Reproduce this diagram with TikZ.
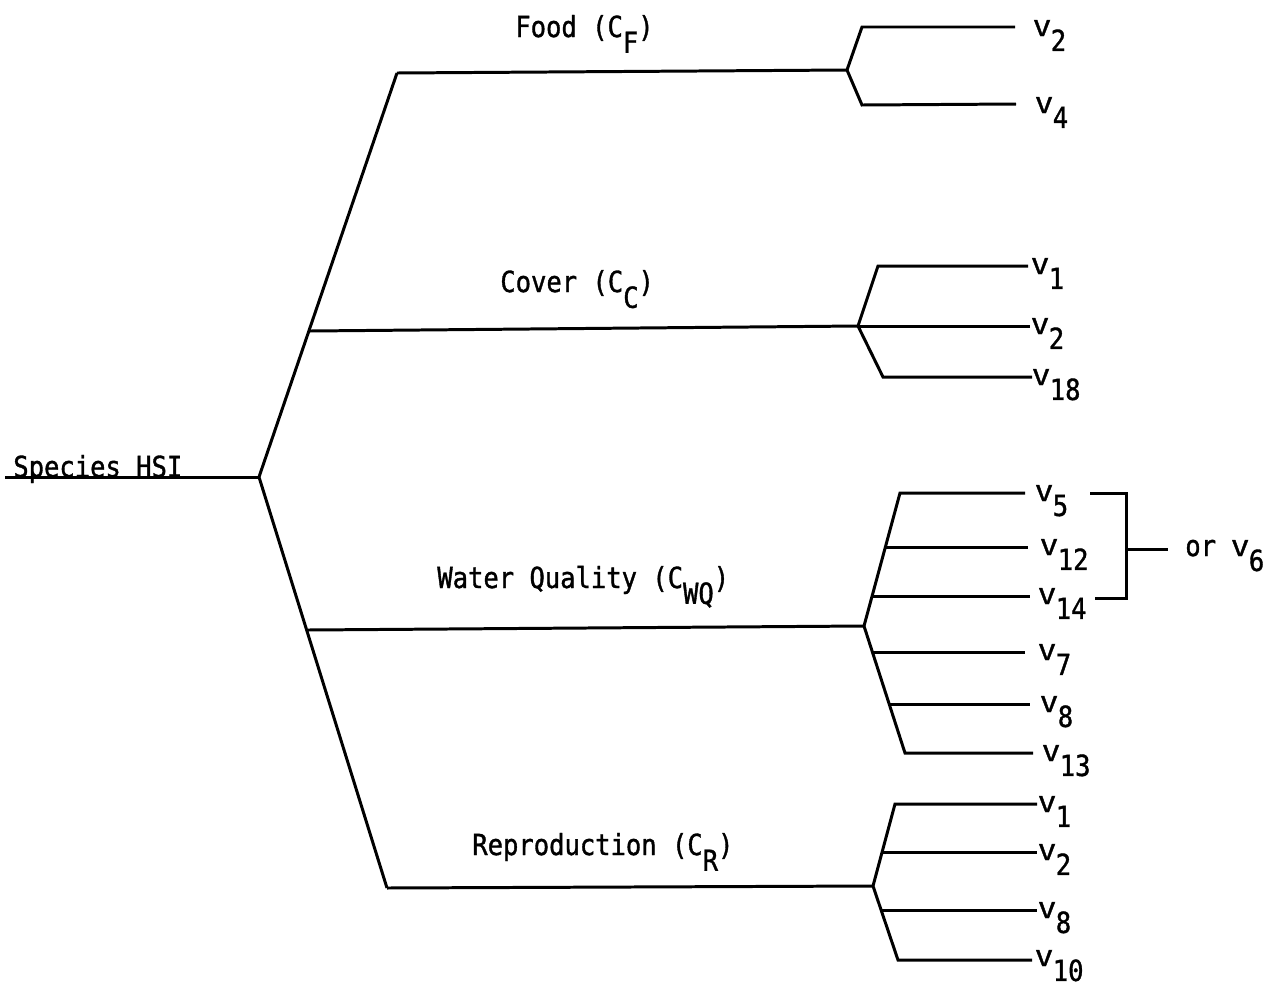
\documentclass[tikz,border=0pt]{standalone}
\usepackage{fontspec}
\usepackage{graphicx}
\setmainfont[FakeStretch=0.88,FakeBold=1.2]{DejaVu Sans Mono}
\newcommand\lsub[1]{\raisebox{-9pt}{#1}}
\newcommand\vv[1]{\scalebox{1.5}[1]{\fontsize{12.5}{12.5}\selectfont V}\raisebox{-8.5pt}{#1}}
\begin{document}
\begin{tikzpicture}[x=0.02cm,y=-0.02cm,
  wire/.style={line width=1.7pt, line join=miter},
  txt/.style={inner sep=0pt, anchor=base west, font=\fontsize{16.5}{18}\selectfont},
  vlab/.style={txt}]
\useasboundingbox (0,0) rectangle (1276,988);
% trunk coordinates
\coordinate (start) at (5,477);
\coordinate (root) at (259,477);
\coordinate (fc) at (397,73);
\coordinate (cj) at (310,331);
\coordinate (wj) at (308,630);
\coordinate (rc) at (387,888);
% category junctions
\coordinate (fj) at (847,70);
\coordinate (cvj) at (858,326);
\coordinate (wqj) at (864,626);
\coordinate (rj) at (873,886);
% labels
\node[txt] (hsi) at (13,477) {Species HSI};
\node[txt] (food) at (515,37) {Food (C\lsub{F})};
\node[txt] (cover) at (500,292) {Cover (C\lsub{C})};
\node[txt] (wq) at (437,588) {Water Quality (C\lsub{WQ})};
\node[txt] (repro) at (472,855) {Reproduction (C\lsub{R})};
% main tree
\draw[wire] (start) -- (root);
\draw[wire] (fc) -- (root) -- (rc);
\draw[wire] (fc) -- (fj);
\draw[wire] (cj) -- (cvj);
\draw[wire] (wj) -- (wqj);
\draw[wire] (rc) -- (rj);
% Food fork
\coordinate (f1c) at (862,27);  \coordinate (f1e) at (1015,27);
\coordinate (f2c) at (862,105); \coordinate (f2e) at (1016,104);
\draw[wire] (fj) -- (f1c) -- (f1e);
\draw[wire] (fj) -- (f2c) -- (f2e);
\node[vlab] (fv2) at (1033,36) {\vv{2}};
\node[vlab] (fv4) at (1035,113) {\vv{4}};
% Cover fork
\coordinate (c1c) at (878,266); \coordinate (c1e) at (1028,266);
\coordinate (c2e) at (1030,326);
\coordinate (c3c) at (883,377); \coordinate (c3e) at (1032,377);
\draw[wire] (cvj) -- (c1c) -- (c1e);
\draw[wire] (cvj) -- (c2e);
\draw[wire] (cvj) -- (c3c) -- (c3e);
\node[vlab] (cv1) at (1031,274) {\vv{1}};
\node[vlab] (cv2) at (1031,334) {\vv{2}};
\node[vlab] (cv18) at (1032,385) {\vv{18}};
% Water quality fork
\coordinate (w1c) at (900,493); \coordinate (w1e) at (1025,493);
\coordinate (w2s) at (885,547); \coordinate (w2e) at (1028,547);
\coordinate (w3s) at (872,596); \coordinate (w3e) at (1030,596);
\coordinate (w4s) at (872,652); \coordinate (w4e) at (1025,652);
\coordinate (w5s) at (889,704); \coordinate (w5e) at (1030,704);
\coordinate (w6c) at (905,753); \coordinate (w6e) at (1033,753);
\draw[wire] (wqj) -- (w1c) -- (w1e);
\draw[wire] (wqj) -- (w6c) -- (w6e);
\draw[wire] (w2s) -- (w2e);
\draw[wire] (w3s) -- (w3e);
\draw[wire] (w4s) -- (w4e);
\draw[wire] (w5s) -- (w5e);
\node[vlab] (wv5) at (1035,501) {\vv{5}};
\node[vlab] (wv12) at (1040,555) {\vv{12}};
\node[vlab] (wv14) at (1038,604) {\vv{14}};
\node[vlab] (wv7) at (1038,660) {\vv{7}};
\node[vlab] (wv8) at (1040,712) {\vv{8}};
\node[vlab] (wv13) at (1042,761) {\vv{13}};
% bracket
\coordinate (b1) at (1090,493); \coordinate (b2) at (1126,493);
\coordinate (b3) at (1126,598); \coordinate (b4) at (1095,598);
\coordinate (bm) at (1126,549); \coordinate (bt) at (1168,549);
\draw[wire] (b1) -- (b2) -- (b3) -- (b4);
\draw[wire] (bm) -- (bt);
\node[txt] (orv6) at (1185,556) {or \vv{6}};
% Reproduction fork
\coordinate (r1c) at (895,804); \coordinate (r1e) at (1037,804);
\coordinate (r2s) at (882,852); \coordinate (r2e) at (1037,852);
\coordinate (r3s) at (881,910); \coordinate (r3e) at (1037,910);
\coordinate (r4c) at (898,960); \coordinate (r4e) at (1032,960);
\draw[wire] (rj) -- (r1c) -- (r1e);
\draw[wire] (rj) -- (r4c) -- (r4e);
\draw[wire] (r2s) -- (r2e);
\draw[wire] (r3s) -- (r3e);
\node[vlab] (rv1) at (1038,812) {\vv{1}};
\node[vlab] (rv2) at (1038,860) {\vv{2}};
\node[vlab] (rv8) at (1038,918) {\vv{8}};
\node[vlab] (rv10) at (1035,966) {\vv{10}};
\end{tikzpicture}
\end{document}
